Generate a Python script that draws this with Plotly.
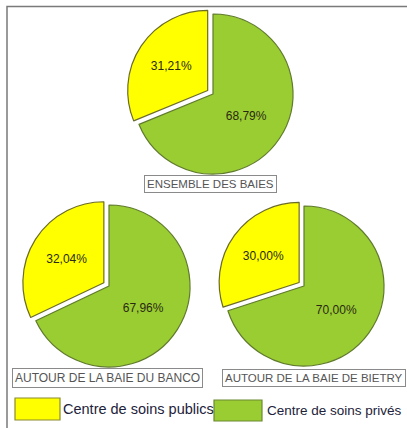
import plotly.graph_objects as go

W, H = 407, 428

categories = ["Centre de soins publics", "Centre de soins privés"]
titles = ["ENSEMBLE DES BAIES", "AUTOUR DE LA BAIE DU BANCO", "AUTOUR DE LA BAIE DE BIETRY"]
ensemble = [31.21, 68.79]
banco = [32.04, 67.96]
bietry = [30.00, 70.00]
colors = ["#FFFF00", "#9ACD32"]
line_colors = ["#6b6b2a", "#5f7a2a"]

def fmt(v):
    return f"{v:.2f}%".replace(".", ",")

# pie placement in pixels: (cx, cy, r, pull)
places = [(213, 94, 80, 0.08), (109, 286, 81, 0.075), (304, 286, 80, 0.075)]
datasets = [ensemble, banco, bietry]

fig = go.Figure()
for vals, (cx, cy, r, pull) in zip(datasets, places):
    half = r * (1 + pull)
    # green drawn first clockwise from 12 o'clock so yellow ends at 12 o'clock on the left
    order = [1, 0]
    fig.add_trace(go.Pie(
        labels=[categories[i] for i in order],
        values=[vals[i] for i in order],
        text=[fmt(vals[i]) for i in order],
        textinfo="text",
        textposition="inside",
        insidetextorientation="horizontal",
        textfont=dict(family="Liberation Sans, Arial", size=12, color="#2a2a14"),
        sort=False,
        direction="clockwise",
        rotation=0,
        pull=[0, pull],
        marker=dict(colors=[colors[i] for i in order],
                    line=dict(color=[line_colors[i] for i in order], width=1.2)),
        domain=dict(x=[(cx - half) / W, (cx + half) / W],
                    y=[1 - (cy + half) / H, 1 - (cy - half) / H]),
        hoverinfo="label+percent",
    ))

def px(x):
    return x / W

def py(y):
    return 1 - y / H

shapes = [
    # outer frame
    dict(type="rect", xref="paper", yref="paper", x0=px(7), x1=px(420), y0=py(440), y1=py(6.5),
         line=dict(color="#7a7a7a", width=1.5), fillcolor="rgba(0,0,0,0)", layer="below"),
    # legend boxes
    dict(type="rect", xref="paper", yref="paper", x0=px(15), x1=px(60), y0=py(420), y1=py(398),
         line=dict(color="#8a8a30", width=1.2), fillcolor=colors[0]),
    dict(type="rect", xref="paper", yref="paper", x0=px(214), x1=px(262), y0=py(421), y1=py(400),
         line=dict(color="#6b8a30", width=1.2), fillcolor=colors[1]),
]

annotations = []
title_pos = [(210, 184, "center", 11.5), (12, 378, "left", 12), (222, 378, "left", 11.5)]
for t, (x, y, anc, fs) in zip(titles, title_pos):
    annotations.append(dict(
        text=t, xref="paper", yref="paper", x=px(x), y=py(y), xanchor=anc, yanchor="middle",
        showarrow=False, font=dict(family="Liberation Sans, Arial", size=fs, color="#555555"),
        bordercolor="#8a8a8a", borderwidth=1, borderpad=2, bgcolor="white"))

legend_pos = [(61, 409, 14.5), (265, 410, 13.5)]
for c, (x, y, fs) in zip(categories, legend_pos):
    annotations.append(dict(
        text=c, xref="paper", yref="paper", x=px(x), y=py(y), xanchor="left", yanchor="middle",
        showarrow=False, font=dict(family="Liberation Sans, Arial", size=fs, color="#22223a")))

fig.update_layout(
    width=W, height=H,
    margin=dict(l=0, r=0, t=0, b=0),
    paper_bgcolor="white", plot_bgcolor="white",
    showlegend=False,
    shapes=shapes,
    annotations=annotations,
)

fig.write_html("out.html")
